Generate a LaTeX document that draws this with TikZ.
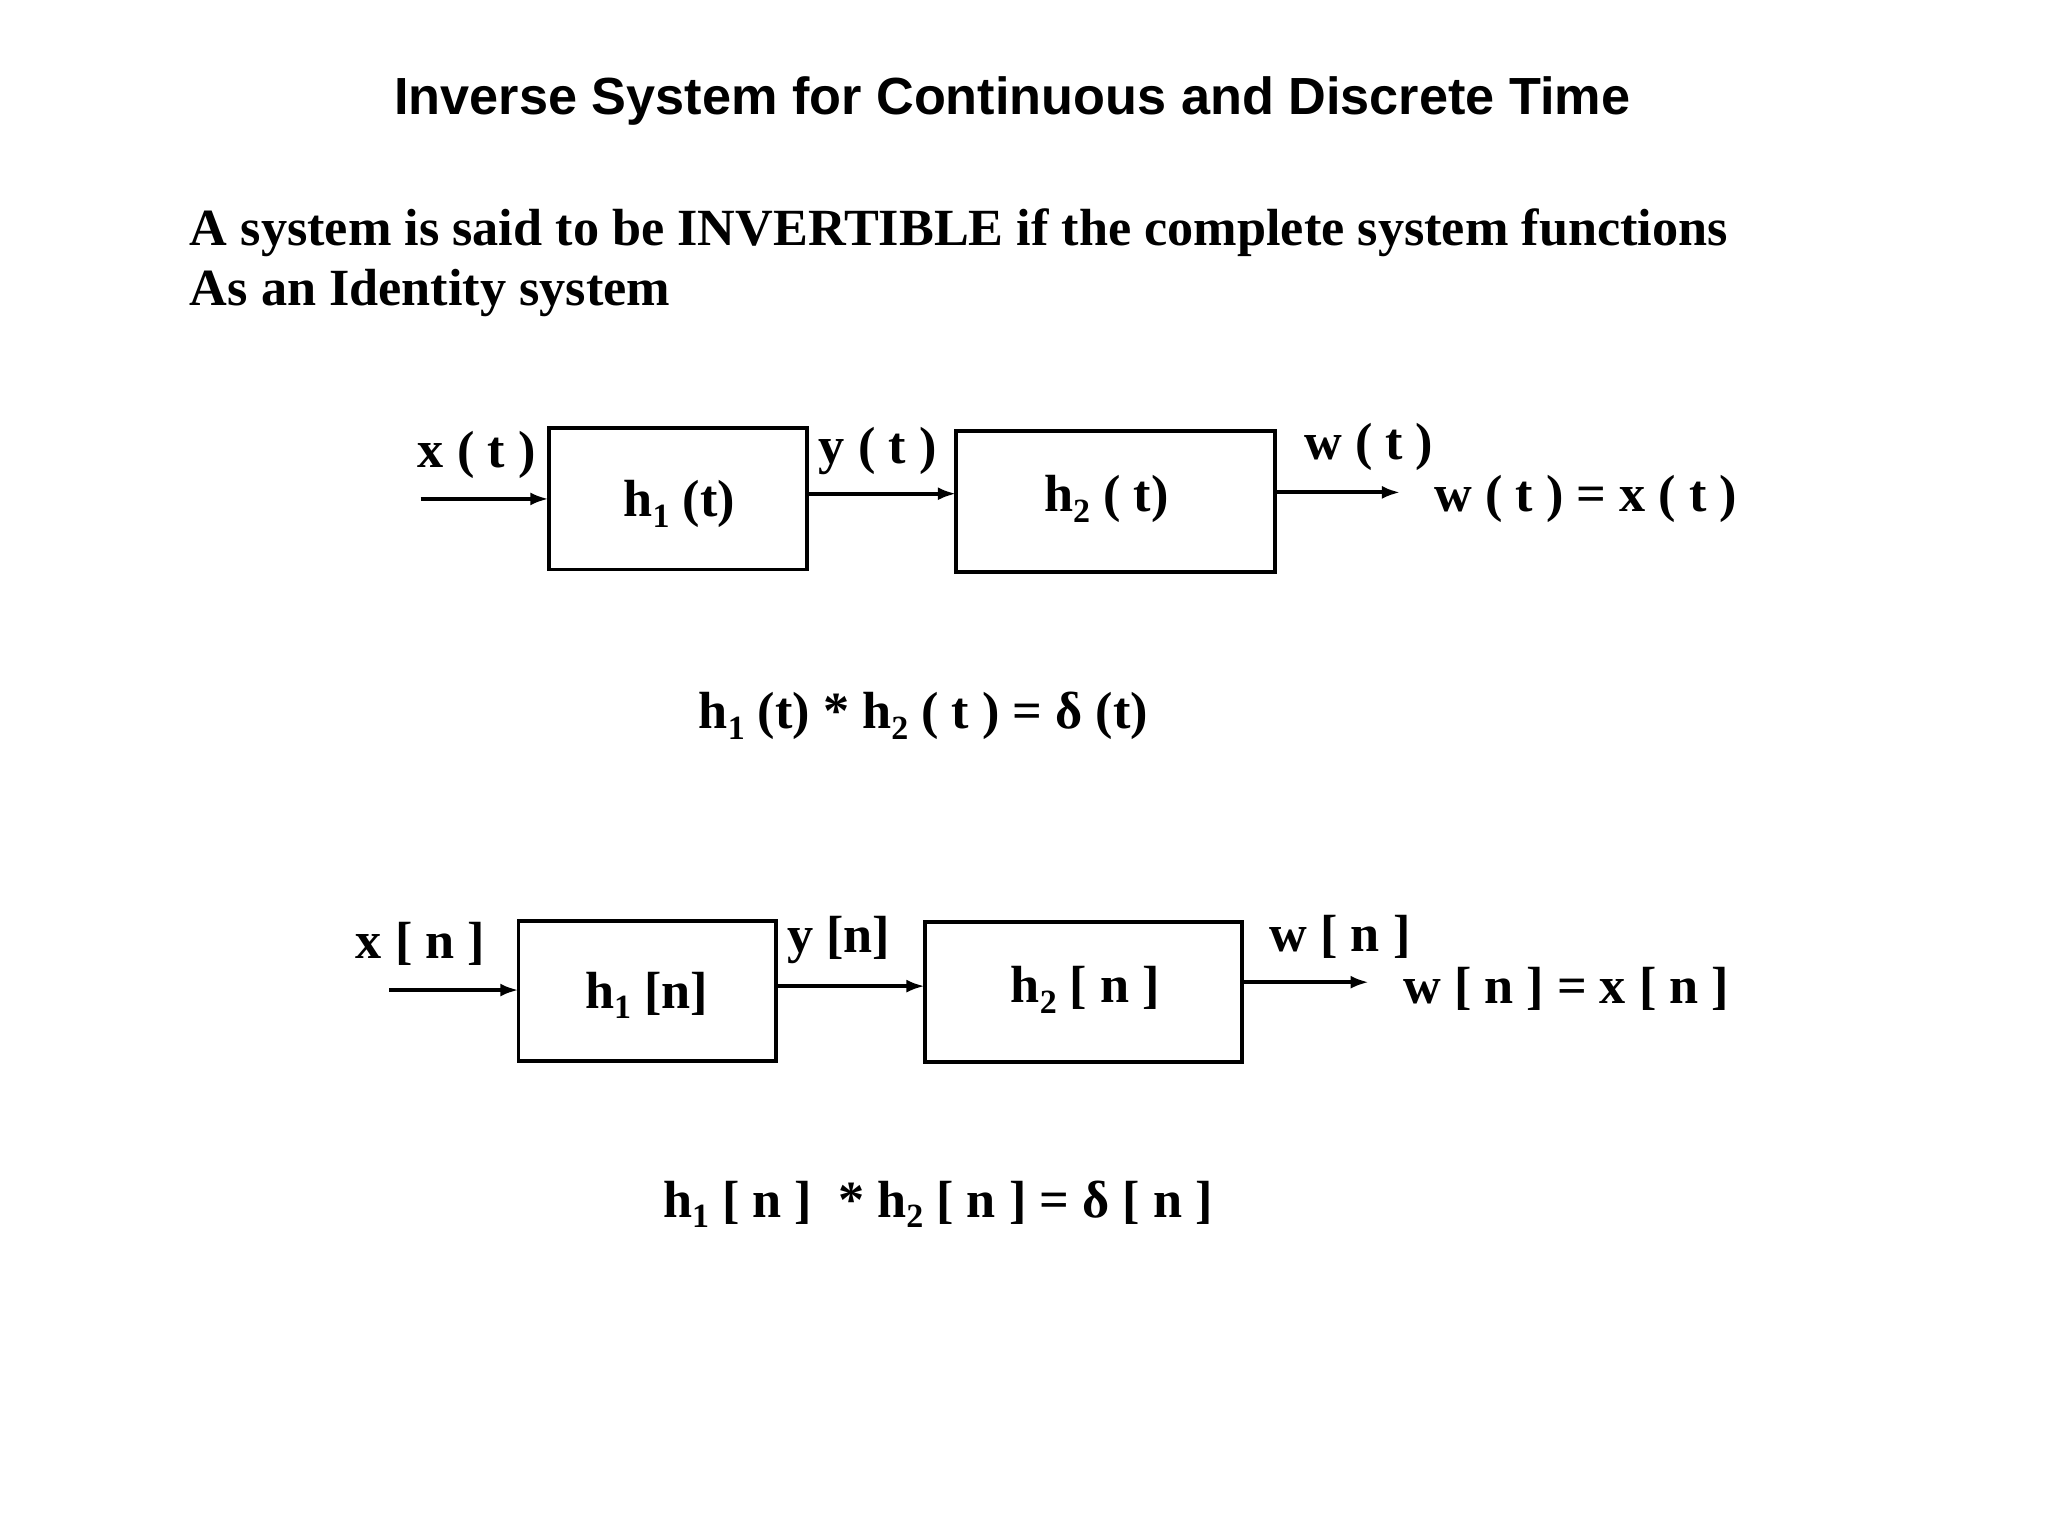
\documentclass[tikz,border=0pt]{standalone}
\usepackage{fontspec}
\setmainfont{Liberation Serif}
\newfontfamily\titlefont{Liberation Sans}
\usetikzlibrary{arrows.meta}
\newcommand{\lsub}[1]{\raisebox{-0.45ex}{\fontsize{13pt}{13pt}\selectfont #1}}
\begin{document}
\begin{tikzpicture}[x=0.5pt,y=-0.5pt,
  blk/.style={draw,line width=1.5pt,minimum width=0pt},
  lbl/.style={font=\fontsize{20pt}{24pt}\selectfont\bfseries,inner sep=0pt},
  sig/.style={line width=1.5pt,-{Latex[length=7pt,width=5pt]}}]
\useasboundingbox (0,0) rectangle (1568,1176);
\node[font=\fontsize{20pt}{24pt}\selectfont\titlefont\bfseries] (title) at (775,77) {Inverse System for Continuous and Discrete Time};
\node[lbl,anchor=base west] (t1) at (145,188) {A system is said to be INVERTIBLE if the complete system functions};
\node[lbl,anchor=base west] (t2) at (145,234) {As an Identity system};
% continuous
\draw[blk] (420,328) rectangle (618,436);
\draw[blk] (732,330) rectangle (976,438);
\coordinate (b1l) at (420,382); \coordinate (b1r) at (618,378);
\coordinate (b2l) at (732,378); \coordinate (b2r) at (976,377);
\coordinate (cin) at (322,382); \coordinate (cout) at (1072,377);
\draw[sig] (cin) -- (b1l);
\draw[sig] (b1r) -- (b2l);
\draw[sig] (b2r) -- (cout);
\node[lbl] (xt) at (365,348) {x ( t )};
\node[lbl] (yt) at (672,345) {y ( t )};
\node[lbl] (wt) at (1048,342) {w ( t )};
\node[lbl,anchor=west] (wxt) at (1098,382) {w ( t ) = x ( t )};
\node[lbl] (h1t) at (520,386) {h\lsub{1} (t)};
\node[lbl] (h2t) at (847,382) {h\lsub{2} ( t)};
\node[lbl] (eq1) at (707,548) {h\lsub{1} (t) * h\lsub{2} ( t ) = δ (t)};
% discrete
\draw[blk] (397,705) rectangle (594,812);
\draw[blk] (708,706) rectangle (951,813);
\coordinate (b3l) at (397,758); \coordinate (b3r) at (594,755);
\coordinate (b4l) at (708,755); \coordinate (b4r) at (951,752);
\coordinate (din) at (298,758); \coordinate (dout) at (1048,752);
\draw[sig] (din) -- (b3l);
\draw[sig] (b3r) -- (b4l);
\draw[sig] (b4r) -- (dout);
\node[lbl] (xn) at (322,723) {x [ n ]};
\node[lbl] (yn) at (642,720) {y [n]};
\node[lbl] (wn) at (1026,717) {w [ n ]};
\node[lbl,anchor=west] (wxn) at (1074,757) {w [ n ] = x [ n ]};
\node[lbl] (h1n) at (495,762) {h\lsub{1} [n]};
\node[lbl] (h2n) at (831,758) {h\lsub{2} [ n ]};
\node[lbl] (eq2) at (718,922) {h\lsub{1} [ n ] \ * h\lsub{2} [ n ] = δ [ n ]};
\end{tikzpicture}
\end{document}
